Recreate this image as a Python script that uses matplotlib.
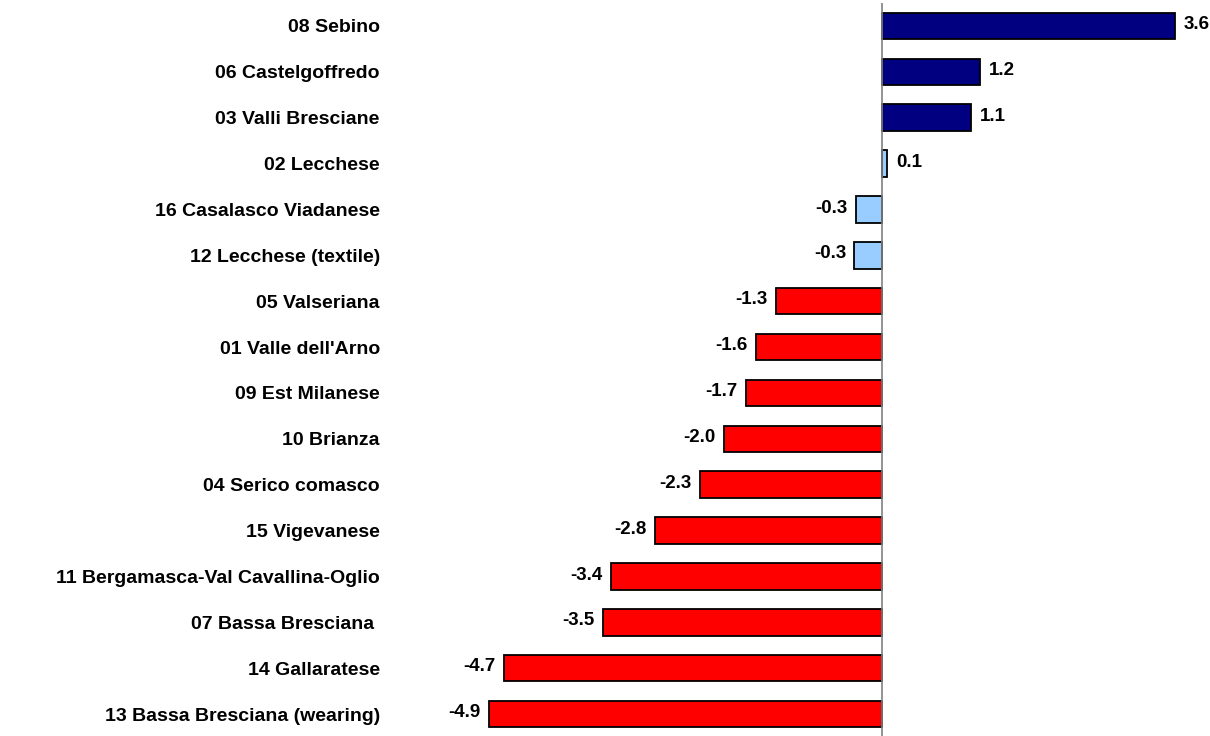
import matplotlib
matplotlib.use("Agg")
import matplotlib.pyplot as plt
from matplotlib import font_manager

categories = [
    "08 Sebino", "06 Castelgoffredo", "03 Valli Bresciane", "02 Lecchese",
    "16 Casalasco Viadanese", "12 Lecchese (textile)", "05 Valseriana",
    "01 Valle dell'Arno", "09 Est Milanese", "10 Brianza", "04 Serico comasco",
    "15 Vigevanese", "11 Bergamasca-Val Cavallina-Oglio", "07 Bassa Bresciana ",
    "14 Gallaratese", "13 Bassa Bresciana (wearing)",
]
values = [3.63, 1.22, 1.10, 0.06, -0.32, -0.34, -1.31, -1.56, -1.69, -1.96,
          -2.26, -2.82, -3.36, -3.46, -4.69, -4.87]
groups = ["up", "up", "up", "flat", "flat", "flat", "down", "down", "down",
          "down", "down", "down", "down", "down", "down", "down"]

group_colors = {"up": "#000080", "flat": "#99CCFF", "down": "#FF0000"}

# value-label font: condensed if available
try:
    font_manager.findfont(font_manager.FontProperties(
        family="Liberation Sans Narrow", weight="bold"), fallback_to_default=False)
    val_family, val_size = "Liberation Sans Narrow", 15
except Exception:
    val_family, val_size = "Liberation Sans", 13.5

fig = plt.figure(figsize=(12.10, 7.36), dpi=100)
W, H = 1210, 736
x0, x1 = 446.5, 1204.4
ytop, ybot = 3, 737
ax = fig.add_axes([x0 / W, (H - ybot) / H, (x1 - x0) / W, (ybot - ytop) / H])

ypos = list(range(len(categories)))
ax.barh(ypos, values, height=0.58,
        color=[group_colors[g] for g in groups],
        edgecolor="black", linewidth=1.3, zorder=2)
ax.axvline(0, color="#808080", linewidth=1.2, zorder=3)

ax.set_xlim(-5.4, 4.0)
ax.set_ylim(len(categories) - 0.5, -0.5)

ax.set_yticks(ypos)
ax.set_yticklabels(categories, fontsize=14, fontweight="bold",
                   family="Liberation Sans")
ax.tick_params(axis="y", length=0, pad=48)
ax.set_xticks([])
for s in ax.spines.values():
    s.set_visible(False)

for y, v in zip(ypos, values):
    txt = f"{v:.1f}"
    if v >= 0:
        ax.annotate(txt, (v, y), xytext=(6.5, 1), textcoords="offset points",
                    ha="left", va="center", fontsize=val_size, fontweight="bold",
                    family=val_family)
    else:
        ax.annotate(txt, (v, y), xytext=(-6, 1), textcoords="offset points",
                    ha="right", va="center", fontsize=val_size, fontweight="bold",
                    family=val_family)

fig.savefig("out.png", dpi=100, facecolor="white")
